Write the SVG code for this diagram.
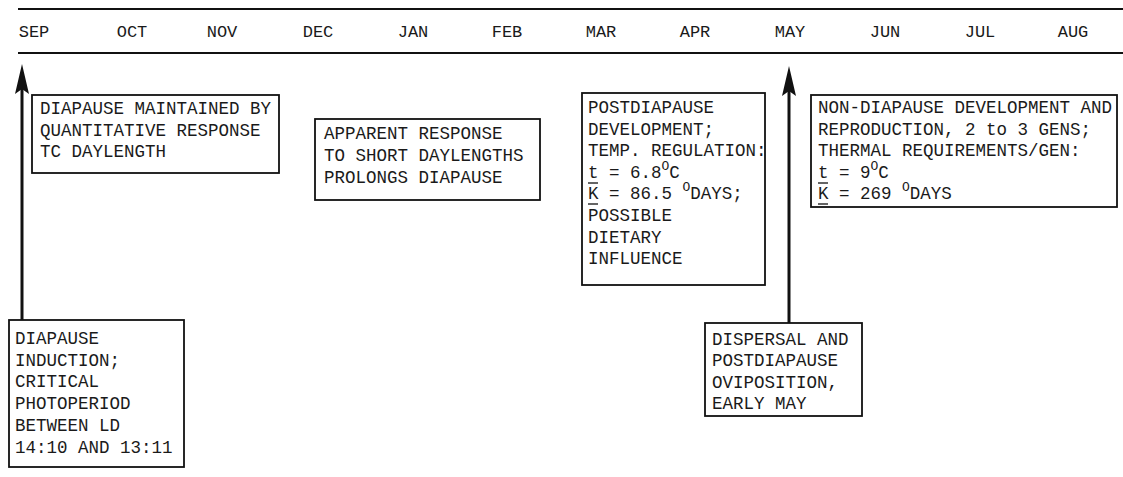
<svg xmlns="http://www.w3.org/2000/svg" width="1123" height="477" viewBox="0 0 1123 477">
<style>
text{font-family:"Liberation Mono","DejaVu Sans Mono",monospace;font-size:17.5px;fill:#1a1a1a}
.mon{font-size:17px}
.box{fill:#fff;stroke:#111;stroke-width:1.8}
.rule{stroke:#111;stroke-width:2}
.conn{stroke:#111;stroke-width:3;fill:none}
.head{fill:#111}
.ul{stroke:#111;stroke-width:1.3}
.sup{font-size:13px}
</style>
<rect width="1123" height="477" fill="#fff"/>
<g id="timeline">
<line class="rule" x1="18" y1="9" x2="1123" y2="9"/>
<line class="rule" x1="18" y1="53" x2="1123" y2="53"/>
<g text-anchor="middle">
<text class="mon" x="34" y="37">SEP</text>
<text class="mon" x="132" y="37">OCT</text>
<text class="mon" x="222" y="37">NOV</text>
<text class="mon" x="318" y="37">DEC</text>
<text class="mon" x="413" y="37">JAN</text>
<text class="mon" x="507" y="37">FEB</text>
<text class="mon" x="601" y="37">MAR</text>
<text class="mon" x="695" y="37">APR</text>
<text class="mon" x="790" y="37">MAY</text>
<text class="mon" x="885" y="37">JUN</text>
<text class="mon" x="980" y="37">JUL</text>
<text class="mon" x="1073" y="37">AUG</text>
</g>
</g>
<g id="connectors">
<line class="conn" x1="22" y1="320" x2="22" y2="85"/>
<polygon class="head" points="22,64 15,94 22,89 29,94"/>
<line class="conn" x1="789" y1="323" x2="789" y2="88"/>
<polygon class="head" points="789,66 782,96 789,91 796,96"/>
</g>
<g id="maintained">
<rect class="box" x="32" y="95" width="247" height="78"/>
<text x="40" y="114">DIAPAUSE MAINTAINED BY</text>
<text x="40" y="136">QUANTITATIVE RESPONSE</text>
<text x="40" y="157">TC DAYLENGTH</text>
</g>
<g id="apparent">
<rect class="box" x="315" y="119" width="225" height="81"/>
<text x="324" y="139">APPARENT RESPONSE</text>
<text x="324" y="161">TO SHORT DAYLENGTHS</text>
<text x="324" y="183">PROLONGS DIAPAUSE</text>
</g>
<g id="postdiapause">
<rect class="box" x="582" y="93" width="183" height="192"/>
<text x="588" y="113">POSTDIAPAUSE</text>
<text x="588" y="135">DEVELOPMENT;</text>
<text x="588" y="156">TEMP. REGULATION:</text>
<text x="588" y="178">t = 6.8<tspan class="sup" dy="-8">O</tspan><tspan dy="8">C</tspan></text>
<line class="ul" x1="588" y1="183" x2="598" y2="183"/>
<text x="588" y="199">K = 86.5 <tspan class="sup" dy="-8">O</tspan><tspan dy="8">DAYS;</tspan></text>
<line class="ul" x1="588" y1="204" x2="598" y2="204"/>
<text x="588" y="221">POSSIBLE</text>
<text x="588" y="243">DIETARY</text>
<text x="588" y="264">INFLUENCE</text>
</g>
<g id="nondiapause">
<rect class="box" x="811" y="95" width="306" height="112"/>
<text x="818" y="113">NON-DIAPAUSE DEVELOPMENT AND</text>
<text x="818" y="135">REPRODUCTION, 2 to 3 GENS;</text>
<text x="818" y="156">THERMAL REQUIREMENTS/GEN:</text>
<text x="818" y="178">t = 9<tspan class="sup" dy="-8">O</tspan><tspan dy="8">C</tspan></text>
<line class="ul" x1="818" y1="183" x2="828" y2="183"/>
<text x="818" y="199">K = 269 <tspan class="sup" dy="-8">O</tspan><tspan dy="8">DAYS</tspan></text>
<line class="ul" x1="818" y1="204" x2="828" y2="204"/>
</g>
<g id="induction">
<rect class="box" x="9" y="320" width="175" height="147"/>
<text x="15" y="344">DIAPAUSE</text>
<text x="15" y="366">INDUCTION;</text>
<text x="15" y="387">CRITICAL</text>
<text x="15" y="409">PHOTOPERIOD</text>
<text x="15" y="431">BETWEEN LD</text>
<text x="15" y="453">14:10 AND 13:11</text>
</g>
<g id="dispersal">
<rect class="box" x="705" y="323" width="157" height="93"/>
<text x="712" y="345">DISPERSAL AND</text>
<text x="712" y="366">POSTDIAPAUSE</text>
<text x="712" y="388">OVIPOSITION,</text>
<text x="712" y="409">EARLY MAY</text>
</g>
</svg>
